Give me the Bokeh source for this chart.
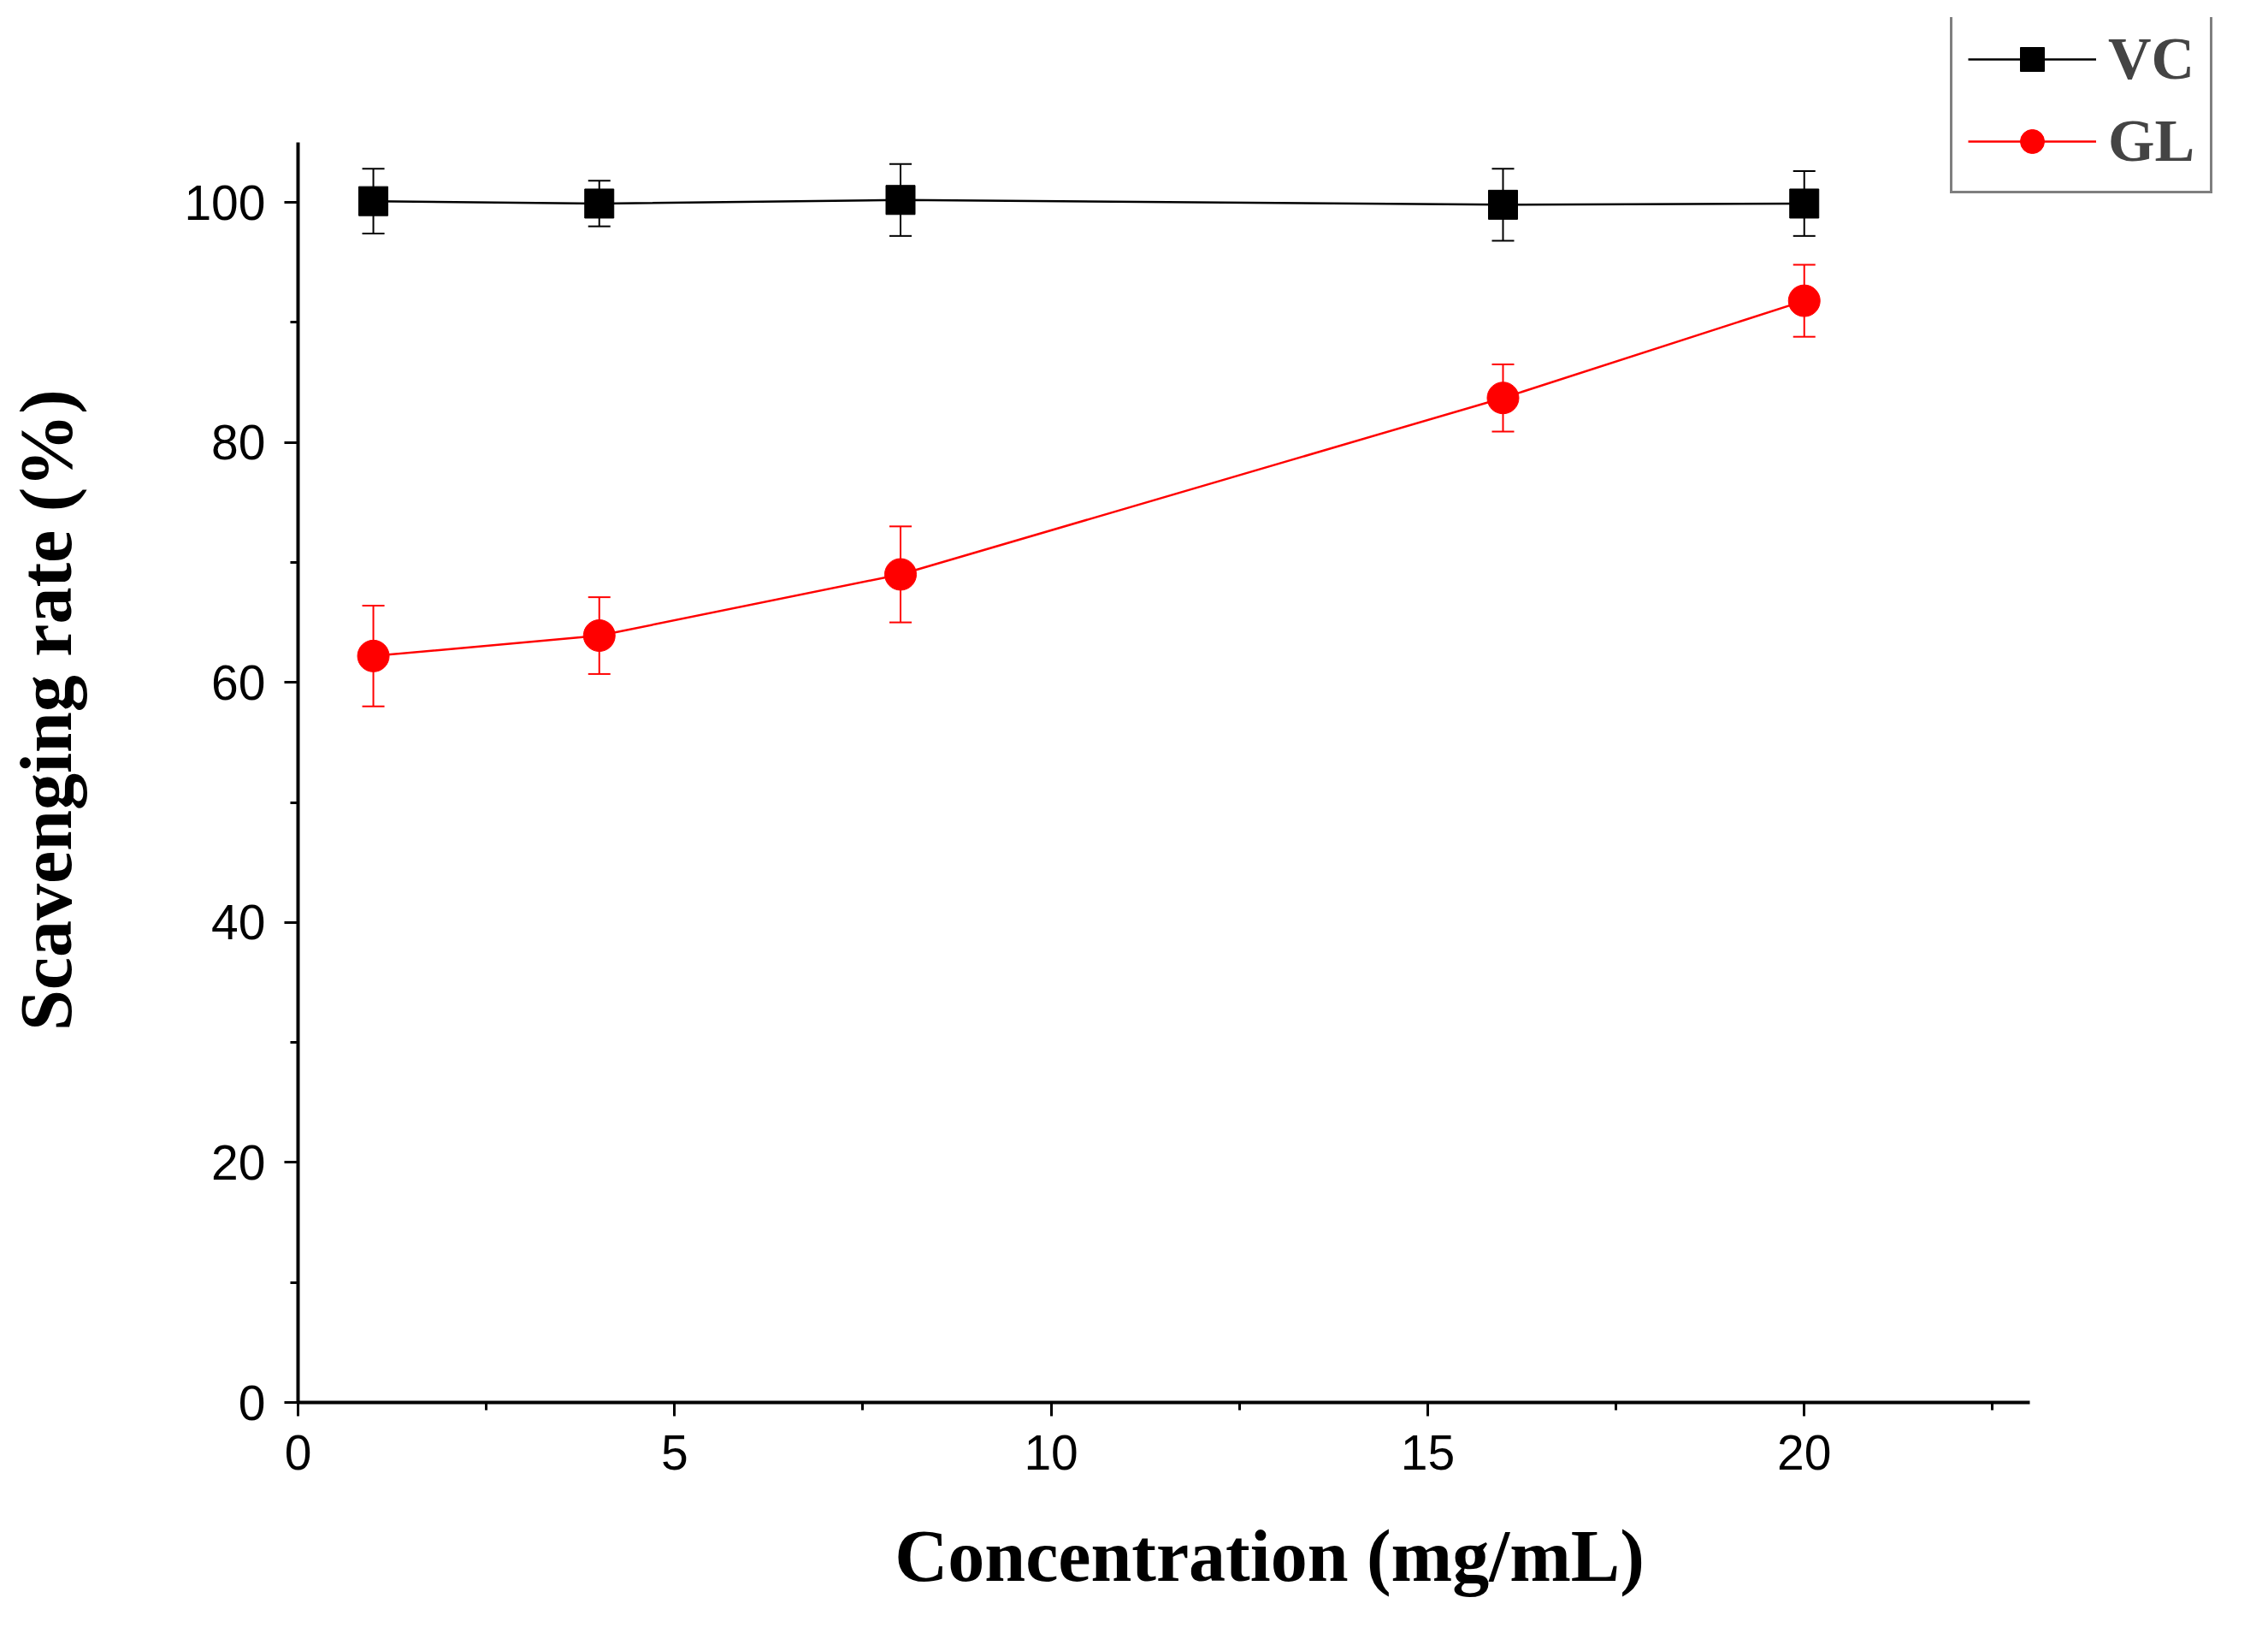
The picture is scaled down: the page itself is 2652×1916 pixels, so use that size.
from bokeh.plotting import figure
from bokeh.models import ColumnDataSource, Whisker, TeeHead, Legend, LegendItem, FixedTicker, Range1d
from bokeh.embed import file_html
from bokeh.resources import INLINE

conc = [1, 4, 8, 16, 20]
vc = [100.1, 99.9, 100.2, 99.8, 99.9]
vc_err = [2.7, 1.9, 3.0, 3.0, 2.7]
gl = [62.2, 63.9, 69.0, 83.7, 91.8]
gl_err = [4.2, 3.2, 4.0, 2.8, 3.0]

p = figure(width=2630, height=1890, output_backend="svg", toolbar_location=None,
           x_range=Range1d(0, 25.8), y_range=Range1d(0, 115.4),
           min_border_left=348, min_border_right=10, min_border_top=20, min_border_bottom=251)
p.outline_line_color = None
p.grid.visible = False

def add(y, e, color, marker, size):
    src = ColumnDataSource(dict(x=conc, y=y, lo=[a - b for a, b in zip(y, e)], hi=[a + b for a, b in zip(y, e)]))
    w = Whisker(source=src, base="x", upper="hi", lower="lo", line_color=color, line_width=2,
                upper_head=TeeHead(size=26, line_color=color, line_width=2),
                lower_head=TeeHead(size=26, line_color=color, line_width=2))
    p.add_layout(w)
    l = p.line("x", "y", source=src, line_color=color, line_width=2.5)
    m = p.scatter("x", "y", source=src, marker=marker, size=size, fill_color=color, line_color=color)
    return l, m

r1 = add(vc, vc_err, "black", "square", 34)
r2 = add(gl, gl_err, "#ff0000", "circle", 37)

for ax in (p.xaxis, p.yaxis):
    ax.axis_line_width = 4
    ax.axis_line_color = "black"
    ax.major_tick_line_width = 3
    ax.minor_tick_line_width = 3
    ax.major_tick_in = 0
    ax.major_tick_out = 16
    ax.minor_tick_in = 0
    ax.minor_tick_out = 9
    ax.major_label_text_font = "Liberation Sans"
    ax.major_label_text_font_size = "57px"
    ax.major_label_text_color = "black"
    ax.axis_label_text_font = "Liberation Serif"
    ax.axis_label_text_font_style = "bold"
    ax.axis_label_text_font_size = "86px"
    ax.axis_label_text_color = "black"
    ax.major_label_standoff = 22
p.xaxis.bounds = (0, 23)
p.yaxis.bounds = (0, 105)
p.xaxis.ticker = FixedTicker(ticks=[0, 5, 10, 15, 20], minor_ticks=[2.5, 7.5, 12.5, 17.5, 22.5])
p.yaxis.ticker = FixedTicker(ticks=[0, 20, 40, 60, 80, 100], minor_ticks=[10, 30, 50, 70, 90])
p.xaxis.axis_label = "Concentration (mg/mL)"
p.yaxis.axis_label = "Scavenging rate (%)"
p.xaxis.axis_label_standoff = 50
p.yaxis.axis_label_standoff = 110

leg = Legend(items=[LegendItem(label="VC", renderers=list(r1)), LegendItem(label="GL", renderers=list(r2))],
             location=(1932, 1413), border_line_color="black", border_line_width=3,
             label_text_font="Liberation Serif", label_text_font_style="bold", label_text_font_size="70px",
             glyph_width=150, glyph_height=70, spacing=16, padding=18, label_standoff=14)
p.add_layout(leg)

open("out.html", "w").write(file_html(p, INLINE))
